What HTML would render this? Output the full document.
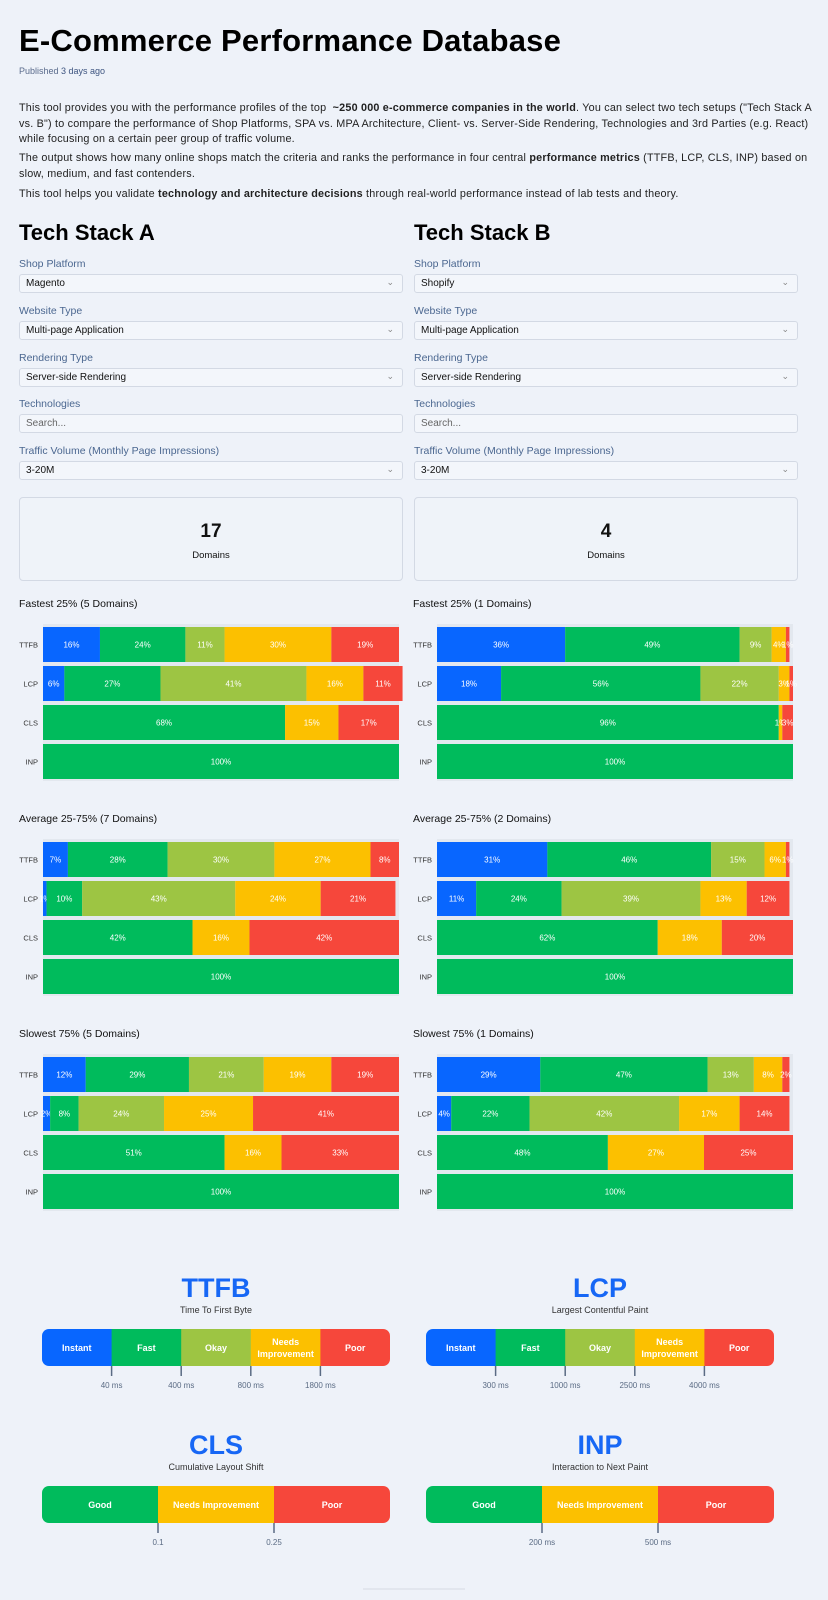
<!DOCTYPE html>
<html><head><meta charset="utf-8">
<style>
*{box-sizing:border-box;margin:0;padding:0}
body{width:828px;height:1600px;background:#eef2f9;font-family:"Liberation Sans",sans-serif;color:#111;position:relative;overflow:hidden}
.abs{position:absolute}
h1{position:absolute;left:19px;top:23px;font-size:31px;font-weight:bold;letter-spacing:0.2px;color:#000}
.pub{left:19px;top:66px;font-size:9px;color:#5a6b8c}
.p{left:19px;font-size:10.8px;letter-spacing:0.2px;line-height:15.5px;color:#222;width:800px}
h2{position:absolute;font-size:22px;font-weight:bold;color:#000}
.lbl{font-size:10.5px;color:#4b6790}
.sel{height:19px;border:1px solid #d3d9e4;border-radius:3px;background:#f3f6fb;font-size:10px;padding:3px 6px;color:#111}
.sel .chev{position:absolute;right:8px;top:2px;font-size:9px;color:#888}
.box{border:1px solid #d3d9e4;border-radius:4px;background:#eff3f9;text-align:center}
</style></head><body>
<h1>E-Commerce Performance Database</h1>
<div class="abs pub">Published <span style="color:#3e5580">3 days ago</span></div>
<div class="abs p" style="top:101px">This tool provides you with the performance profiles of the top &nbsp;<b>~250 000 e-commerce companies in the world</b>. You can select two tech setups ("Tech Stack A vs. B") to compare the performance of Shop Platforms, SPA vs. MPA Architecture, Client- vs. Server-Side Rendering, Technologies and 3rd Parties (e.g. React) while focusing on a certain peer group of traffic volume.</div>
<div class="abs p" style="top:151px">The output shows how many online shops match the criteria and ranks the performance in four central <b>performance metrics</b> (TTFB, LCP, CLS, INP) based on slow, medium, and fast contenders.</div>
<div class="abs p" style="top:187px">This tool helps you validate <b>technology and architecture decisions</b> through real-world performance instead of lab tests and theory.</div>

<div id="cols"></div>
<svg id="charts" class="abs" style="left:0;top:0" width="828" height="1600"></svg>

<script>
// ---- Chart data ----
const metrics = ["TTFB","LCP","CLS","INP"];
const groupTitlesA = ["Fastest 25% (5 Domains)","Average 25-75% (7 Domains)","Slowest 75% (5 Domains)"];
const groupTitlesB = ["Fastest 25% (1 Domains)","Average 25-75% (2 Domains)","Slowest 75% (1 Domains)"];
const fastA_TTFB=[16,24,11,30,19], fastA_LCP=[6,27,41,16,11], fastA_CLS=[68,15,17], fastA_INP=[100];
const avgA_TTFB=[7,28,30,27,8], avgA_LCP=[1,10,43,24,21], avgA_CLS=[42,16,42], avgA_INP=[100];
const slowA_TTFB=[12,29,21,19,19], slowA_LCP=[2,8,24,25,41], slowA_CLS=[51,16,33], slowA_INP=[100];
const fastB_TTFB=[36,49,9,4,1], fastB_LCP=[18,56,22,3,1], fastB_CLS=[96,1,3], fastB_INP=[100];
const avgB_TTFB=[31,46,15,6,1], avgB_LCP=[11,24,39,13,12], avgB_CLS=[62,18,20], avgB_INP=[100];
const slowB_TTFB=[29,47,13,8,2], slowB_LCP=[4,22,42,17,14], slowB_CLS=[48,27,25], slowB_INP=[100];
const domainCounts=[17,4];
// legend data
const ttfbLabels=["Instant","Fast","Okay","Needs Improvement","Poor"];
const ttfbTicks=["40 ms","400 ms","800 ms","1800 ms"];
const lcpTicks=["300 ms","1000 ms","2500 ms","4000 ms"];
const clsLabels=["Good","Needs Improvement","Poor"];
const clsTicks=["0.1","0.25"];
const inpTicks=["200 ms","500 ms"];

const C5=["#0866ff","#00bb5c","#9dc543","#fcc000","#f6473b"];
const C3=["#00bb5c","#fcc000","#f6473b"];
const NS="http://www.w3.org/2000/svg";
const svg=document.getElementById('charts');
function mk(tag,attrs,parent){const e=document.createElementNS(NS,tag);for(const k in attrs)e.setAttribute(k,attrs[k]);(parent||svg).appendChild(e);return e;}

// ---- form columns ----
const cols=document.getElementById('cols');
const stacks=[{n:"Tech Stack A",x:19,v:["Magento","Multi-page Application","Server-side Rendering","Search...","3-20M"]},
              {n:"Tech Stack B",x:414,v:["Shopify","Multi-page Application","Server-side Rendering","Search...","3-20M"]}];
const fields=["Shop Platform","Website Type","Rendering Type","Technologies","Traffic Volume (Monthly Page Impressions)"];
stacks.forEach((s,si)=>{
  const h=document.createElement('h2');h.textContent=s.n;h.style.left=s.x+'px';h.style.top='220px';
  
  
  cols.appendChild(h);
  fields.forEach((f,i)=>{
    const y=[264,311,358,404,451][i];
    const l=document.createElement('div');l.className='abs lbl';l.style.left=s.x+'px';l.style.top=(y-6)+'px';l.textContent=f;
    
    
    cols.appendChild(l);
    const b=document.createElement('div');b.className='abs sel';b.style.left=s.x+'px';b.style.top=(y+10)+'px';b.style.width='384px';
    b.textContent=s.v[i];
    if(i===3){b.style.color='#666';}
    else{const c=document.createElement('span');c.className='chev';c.textContent='⌄';b.appendChild(c);}
    
    cols.appendChild(b);
  });
  const bx=document.createElement('div');bx.className='abs box';bx.style.left=s.x+'px';bx.style.top='497px';bx.style.width='384px';bx.style.height='84px';
  bx.innerHTML='<div style="font-size:19px;font-weight:bold;margin-top:23px">'+domainCounts[si]+'</div><div style="font-size:9.5px;margin-top:7px">Domains</div>';
  
  
  cols.appendChild(bx);
});

// ---- stacked bar charts ----
const groupsA=[[fastA_TTFB,fastA_LCP,fastA_CLS,fastA_INP],[avgA_TTFB,avgA_LCP,avgA_CLS,avgA_INP],[slowA_TTFB,slowA_LCP,slowA_CLS,slowA_INP]];
const groupsB=[[fastB_TTFB,fastB_LCP,fastB_CLS,fastB_INP],[avgB_TTFB,avgB_LCP,avgB_CLS,avgB_INP],[slowB_TTFB,slowB_LCP,slowB_CLS,slowB_INP]];
function drawGroup(rows,title,colX,top){
  const x0=colX+24,x1=colX+380;
  const xs=v=>(x1-x0)*v/100;
  const t=mk('text',{x:colX,y:top+4,'font-size':10.5,fill:'#111'});t.textContent=title;
  
  
  mk('rect',{x:x0,y:top+21,width:x1-x0,height:157,fill:'#e3e8ef'});
  rows.forEach((vals,ri)=>{
    const y=top+24+ri*39,h=35;
    const lb=mk('text',{x:x0-5,y:y+h/2+3,'font-size':7.5,'text-anchor':'end',fill:'#333'});lb.textContent=metrics[ri];
    
    
    const cols=vals.length===5?C5:(vals.length===3?C3:["#00bb5c"]);
    let acc=0;
    vals.forEach((v,vi)=>{
      const sx=x0+xs(acc),w=xs(v);
      const r=mk('rect',{x:sx,y:y,width:w,height:h,fill:cols[vi]});
      
      
      const tx=mk('text',{x:sx+w/2,y:y+h/2+3,'font-size':8,'text-anchor':'middle',fill:'#fff'});tx.textContent=v+'%';
      
      
      acc+=v;
    });
  });
}
for(let g=0;g<3;g++){
  drawGroup(groupsA[g],groupTitlesA[g],19,603+g*215);
  drawGroup(groupsB[g],groupTitlesB[g],413,603+g*215);
}

// ---- legend scales ----
function drawLegend(x,top,title,sub,labels,colors,ticks){
  const w=348,bt=top+41,bh=37;
  const t=mk('text',{x:x+w/2,y:top+9,'font-size':27,'font-weight':'bold','text-anchor':'middle',fill:'#1767f5'});t.textContent=title;
  
  
  const s=mk('text',{x:x+w/2,y:top+25,'font-size':9,'text-anchor':'middle',fill:'#333'});s.textContent=sub;
  
  
  const n=labels.length,sw=w/n;
  const cp=mk('clipPath',{id:'cp'+title});mk('rect',{x:x,y:bt,width:w,height:bh,rx:7},cp);
  const g=mk('g',{'clip-path':'url(#cp'+title+')'});
  labels.forEach((l,i)=>{
    const r=mk('rect',{x:x+i*sw,y:bt,width:sw+0.5,height:bh,fill:colors[i]},g);
    
    
    const parts=(n===5&&l==="Needs Improvement")?["Needs","Improvement"]:[l];
    parts.forEach((p,pi)=>{
      const tx=mk('text',{x:x+i*sw+sw/2,y:bt+bh/2+3.5+(parts.length>1?(pi?6:-6):0),'font-size':9,'font-weight':'bold','text-anchor':'middle',fill:'#fff'});tx.textContent=p;
      
      
    });
  });
  ticks.forEach((tk,i)=>{
    const tx0=x+(i+1)*sw;
    mk('line',{x1:tx0,x2:tx0,y1:bt+bh,y2:bt+bh+10,stroke:'#5a6b84','stroke-width':1.5});
    const tt=mk('text',{x:tx0,y:bt+bh+22,'font-size':8,'text-anchor':'middle',fill:'#5a6b84'});tt.textContent=tk;
    
    
  });
}
drawLegend(42,1288,"TTFB","Time To First Byte",ttfbLabels,C5,ttfbTicks);
drawLegend(426,1288,"LCP","Largest Contentful Paint",ttfbLabels,C5,lcpTicks);
drawLegend(42,1445,"CLS","Cumulative Layout Shift",clsLabels,C3,clsTicks);
drawLegend(426,1445,"INP","Interaction to Next Paint",clsLabels,C3,inpTicks);
mk('line',{x1:363,x2:465,y1:1589,y2:1589,stroke:'#d5dbe4','stroke-width':1});
</script>
</body></html>
